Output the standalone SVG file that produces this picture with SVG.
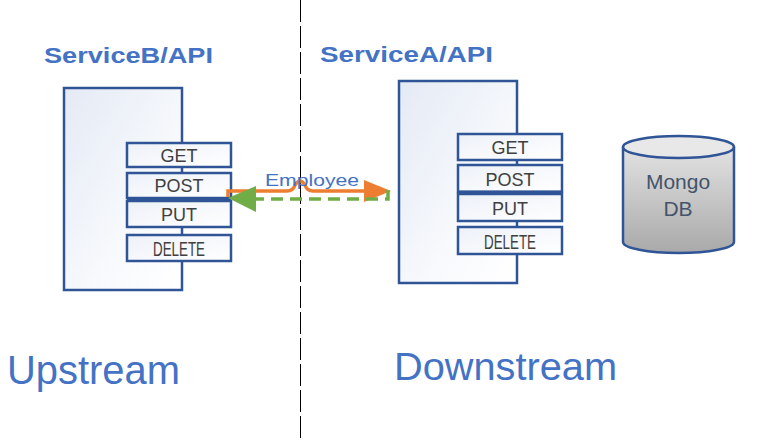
<svg xmlns="http://www.w3.org/2000/svg" width="768" height="442" viewBox="0 0 768 442">
<defs>
<linearGradient id="svc" x1="0" y1="0" x2="1" y2="1">
<stop offset="0" stop-color="#e4eaf5"/>
<stop offset="0.6" stop-color="#f7f9fc"/>
<stop offset="1" stop-color="#ffffff"/>
</linearGradient>
<linearGradient id="meth" x1="0" y1="0" x2="1" y2="1">
<stop offset="0" stop-color="#edf1f8"/>
<stop offset="1" stop-color="#ffffff"/>
</linearGradient>
<linearGradient id="db" x1="0" y1="0" x2="0" y2="1">
<stop offset="0" stop-color="#e2e2e2"/>
<stop offset="1" stop-color="#a9a9a9"/>
</linearGradient>
</defs>
<style>
.title{font-family:"Liberation Sans",Arial,sans-serif;font-weight:bold;font-size:22px;fill:#4472c4}
.big{font-family:"Liberation Sans",Arial,sans-serif;fill:#4472c4}
.svc{fill:url(#svc);stroke:#2f5597;stroke-width:2.5}
.m{fill:url(#meth);stroke:#2f5597;stroke-width:2.5}
.mt{font-family:"Liberation Sans",Arial,sans-serif;font-size:18px;fill:#404040;text-anchor:middle}
.dt{font-family:"Liberation Sans",Arial,sans-serif;font-size:21px;fill:#404040;text-anchor:middle}
.db{font-family:"Liberation Sans",Arial,sans-serif;font-size:21px;fill:#44546a;text-anchor:middle}
</style>
<rect width="768" height="442" fill="#ffffff"/>

<g id="divider">
<line x1="300.5" y1="0" x2="300.5" y2="442" stroke="#000" stroke-width="1" stroke-dasharray="22,4"/>
</g>

<g id="serviceB">
<text class="title" x="44" y="63" textLength="169" lengthAdjust="spacingAndGlyphs">ServiceB/API</text>
<rect class="svc" x="64" y="88" width="118" height="202"/>
<rect class="m" x="127" y="143" width="104" height="24"/>
<text class="mt" x="179" y="162">GET</text>
<rect class="m" x="127" y="173" width="104" height="25"/>
<text class="mt" x="179" y="192">POST</text>
<line x1="127" y1="199" x2="231" y2="199" stroke="#2f5597" stroke-width="3"/>
<rect class="m" x="127" y="201" width="104" height="26"/>
<text class="mt" x="179" y="221">PUT</text>
<rect class="m" x="127" y="235" width="104" height="26"/>
<text class="dt" x="179" y="256" textLength="52" lengthAdjust="spacingAndGlyphs">DELETE</text>
</g>

<g id="serviceA">
<text class="title" x="320" y="62" textLength="173" lengthAdjust="spacingAndGlyphs">ServiceA/API</text>
<rect class="svc" x="399" y="81" width="118" height="202"/>
<rect class="m" x="458" y="134" width="104" height="26"/>
<text class="mt" x="510" y="154">GET</text>
<rect class="m" x="458" y="165" width="104" height="27"/>
<text class="mt" x="510" y="186">POST</text>
<line x1="458" y1="192" x2="562" y2="192" stroke="#2f5597" stroke-width="3"/>
<rect class="m" x="458" y="194" width="104" height="27"/>
<text class="mt" x="510" y="215">PUT</text>
<rect class="m" x="458" y="227" width="104" height="27"/>
<text class="dt" x="510" y="249" textLength="52" lengthAdjust="spacingAndGlyphs">DELETE</text>
</g>

<g id="mongodb">
<path d="M623,147 L623,242 A55.5,11 0 0 0 734,242 L734,147" fill="url(#db)" stroke="#2f5597" stroke-width="2.5"/>
<ellipse cx="678.5" cy="147" rx="55.5" ry="11" fill="#e8e8e8" stroke="#2f5597" stroke-width="2.5"/>
<text class="db" x="678" y="189">Mongo</text>
<text class="db" x="678" y="216">DB</text>
</g>

<g id="connectors">
<path d="M228,197 L228,191 L287,191 Q293,191 295,185 Q300,177 305,185 Q307,191 313,191 L368,191" fill="none" stroke="#ed7d31" stroke-width="3.5"/>
<polygon points="364,180 391,191 364,202" fill="#ed7d31"/>
<path d="M388,190 L388,199 L254,199" fill="none" stroke="#70ad47" stroke-width="3.5" stroke-dasharray="12,7"/>
<polygon points="228,198 256,186 256,212" fill="#70ad47"/>
<text x="265" y="186" font-family="Liberation Sans,Arial,sans-serif" font-size="17" fill="#4472c4" textLength="94" lengthAdjust="spacingAndGlyphs">Employee</text>
</g>

<g id="labels">
<text class="big" x="7" y="384" font-size="40" textLength="173" lengthAdjust="spacingAndGlyphs">Upstream</text>
<text class="big" x="394" y="380" font-size="38" textLength="223" lengthAdjust="spacingAndGlyphs">Downstream</text>
</g>
</svg>
